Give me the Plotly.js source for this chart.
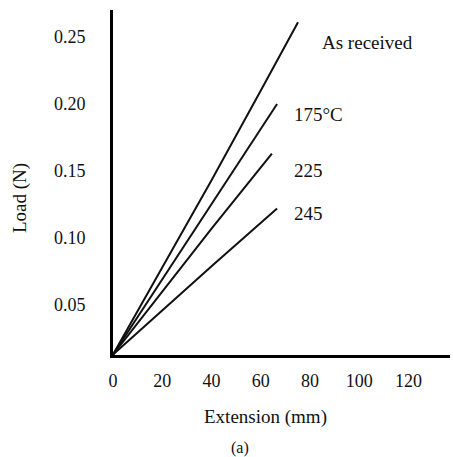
<!DOCTYPE html>
<html>
<head>
<meta charset="utf-8">
<script src="https://cdn.plot.ly/plotly-3.0.1.min.js"></script>
<style>html,body{margin:0;padding:0;background:#fff;}#chart{width:453px;height:457px;}</style>
</head>
<body>
<div id="chart"></div>
<script>
// Data
const seriesNames = ["As received", "175°C", "225", "245"];
const extAsReceived = [0, 20, 40, 60, 75.1];
const loadAsReceived = [0.013, 0.078, 0.143, 0.210, 0.261];
const ext175 = [0, 20, 40, 66.6];
const load175 = [0.013, 0.069, 0.125, 0.200];
const ext225 = [0, 20, 40, 64.5];
const load225 = [0.013, 0.060, 0.107, 0.163];
const ext245 = [0, 20, 40, 66.6];
const load245 = [0.013, 0.046, 0.079, 0.122];
const xTicks = [0, 20, 40, 60, 80, 100, 120];
const yTicks = [0.05, 0.10, 0.15, 0.20, 0.25];
const yTickText = ["0.05", "0.10", "0.15", "0.20", "0.25"];

const font = "Liberation Serif, Times New Roman, serif";
const xs = [extAsReceived, ext175, ext225, ext245];
const ys = [loadAsReceived, load175, load225, load245];
const traces = xs.map((x, i) => ({
  x: x, y: ys[i], type: "scatter", mode: "lines", name: seriesNames[i],
  line: {color: "#111", width: 2}, hoverinfo: "skip"
}));

// label positions (data coords)
const labelX = [84.0, 72.6, 72.6, 72.6];
const labelY = [0.2455, 0.1925, 0.150, 0.118];
const annotations = seriesNames.map((t, i) => ({
  x: labelX[i], y: labelY[i], xref: "x", yref: "y", text: t, showarrow: false,
  xanchor: "left", yanchor: "middle", font: {family: font, size: 19, color: "#111"}
}));
annotations.push({x: (265-113)/337, y: -62/345, xref: "paper", yref: "paper", text: "Extension (mm)",
  showarrow: false, xanchor: "center", yanchor: "middle", font: {family: font, size: 19, color: "#111"}});
annotations.push({x: (240-113)/337, y: -93/345, xref: "paper", yref: "paper", text: "(a)",
  showarrow: false, xanchor: "center", yanchor: "middle", font: {family: font, size: 16, color: "#111"}});
annotations.push({x: -93/337, y: (355-198)/345, xref: "paper", yref: "paper", text: "Load (N)", textangle: -90,
  showarrow: false, xanchor: "center", yanchor: "middle", font: {family: font, size: 19, color: "#111"}});

const layout = {
  width: 453, height: 457,
  margin: {l: 113, r: 3, t: 10, b: 102, pad: 0},
  paper_bgcolor: "#fff", plot_bgcolor: "#fff",
  showlegend: false,
  font: {family: font, color: "#111"},
  xaxis: {
    range: [0, 136.8], tickvals: xTicks, ticks: "", showgrid: false, zeroline: false,
    showline: true, linecolor: "#000", linewidth: 3, ticklabelstandoff: 7,
    tickfont: {family: font, size: 18, color: "#111"}
  },
  yaxis: {
    range: [0.0127, 0.2701], tickvals: yTicks, ticktext: yTickText, ticks: "", showgrid: false, zeroline: false,
    showline: true, linecolor: "#000", linewidth: 3, ticklabelstandoff: 21,
    tickfont: {family: font, size: 18, color: "#111"}
  },
  annotations: annotations
};
Plotly.newPlot("chart", traces, layout, {displayModeBar: false, staticPlot: true});
</script>
</body>
</html>
